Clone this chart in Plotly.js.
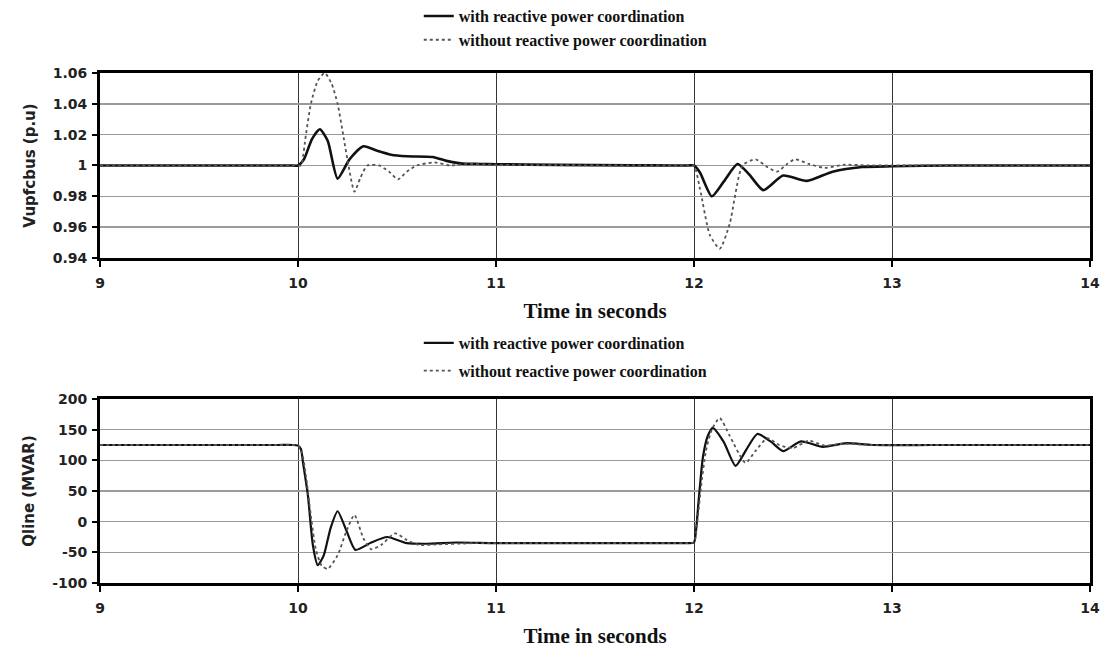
<!DOCTYPE html>
<html>
<head>
<meta charset="utf-8">
<script src="https://cdn.plot.ly/plotly-3.0.1.min.js"></script>
<style>html,body{margin:0;padding:0;background:#fff;}#chart{width:1102px;height:650px;}</style>
</head>
<body>
<div id="chart"></div>
<script>
// ---- Data ----
const seriesNames = ["with reactive power coordination", "without reactive power coordination"];

// Top: Vupfcbus (p.u), with coordination
const tVWith = [9, 9.5, 9.9, 9.97, 10, 10.03, 10.07, 10.11, 10.15, 10.2, 10.26, 10.33, 10.4, 10.47, 10.55, 10.68, 10.75, 10.83, 10.92, 11, 11.3, 11.7, 11.9, 11.97, 12, 12.03, 12.09, 12.15, 12.22, 12.28, 12.35, 12.45, 12.57, 12.7, 12.85, 13, 13.3, 13.7, 14];
const vWith  = [1.0, 1.0, 1.0, 1.0, 1.0, 1.004, 1.017, 1.0235, 1.016, 0.9915, 1.004, 1.0125, 1.0095, 1.007, 1.006, 1.0055, 1.003, 1.0012, 1.001, 1.0008, 1.0004, 1.0001, 1.0, 1.0, 1.0, 0.9955, 0.980, 0.9895, 1.001, 0.994, 0.984, 0.9935, 0.990, 0.996, 0.999, 0.9995, 1.0, 1.0, 1.0];

// Top: Vupfcbus (p.u), without coordination
const tVWithout = [9, 9.5, 9.9, 9.97, 10, 10.015, 10.04, 10.065, 10.1, 10.135, 10.17, 10.2, 10.228, 10.255, 10.285, 10.315, 10.35, 10.41, 10.46, 10.505, 10.55, 10.6, 10.69, 10.77, 10.85, 11, 11.3, 11.7, 11.9, 11.97, 12, 12.03, 12.08, 12.13, 12.18, 12.245, 12.31, 12.37, 12.42, 12.47, 12.51, 12.58, 12.66, 12.76, 12.88, 13, 13.3, 13.7, 14];
const vWithout  = [1.0, 1.0, 1.0, 1.0, 1.0, 1.0, 1.02, 1.04, 1.055, 1.06, 1.053, 1.04, 1.02, 1.0, 0.983, 0.992, 1.0, 1.0, 0.996, 0.991, 0.996, 1.0, 1.002, 1.0, 1.001, 1.0005, 1.0002, 1.0, 1.0, 1.0, 1.0, 0.985, 0.955, 0.946, 0.962, 1.0, 1.004, 0.999, 0.996, 1.001, 1.004, 1.001, 0.9985, 1.0005, 1.0, 1.0, 1.0, 1.0, 1.0];

// Bottom: Qline (MVAR), with coordination
const tQWith = [9, 9.5, 9.9, 9.97, 10, 10.015, 10.025, 10.05, 10.075, 10.1, 10.13, 10.165, 10.2, 10.245, 10.29, 10.37, 10.45, 10.55, 10.65, 10.8, 11, 11.5, 11.9, 11.97, 12, 12.01, 12.025, 12.045, 12.07, 12.095, 12.15, 12.21, 12.265, 12.32, 12.39, 12.45, 12.54, 12.65, 12.77, 12.9, 13.2, 13.6, 14];
const qWith  = [125, 125, 125, 125, 124, 118, 97, 43, -38, -71, -55, -10, 17, -15, -46, -34, -25, -35, -36, -34, -35, -35, -35, -35, -34, -15, 40, 105, 140, 153, 130, 91, 118, 143, 130, 115, 131, 122, 128, 125, 125, 125, 125];

// Bottom: Qline (MVAR), without coordination
const tQWithout = [9, 9.5, 9.9, 9.97, 10, 10.02, 10.04, 10.065, 10.09, 10.12, 10.15, 10.2, 10.245, 10.285, 10.33, 10.37, 10.42, 10.49, 10.55, 10.61, 10.7, 10.9, 11, 11.5, 11.9, 11.97, 12, 12.015, 12.035, 12.06, 12.09, 12.13, 12.18, 12.26, 12.31, 12.37, 12.43, 12.5, 12.58, 12.66, 12.75, 12.9, 13.2, 13.6, 14];
const qWithout  = [125, 125, 125, 125, 124, 112, 75, 10, -45, -72, -77, -55, -15, 11, -27, -45, -38, -19, -30, -38, -37, -35, -35, -35, -35, -35, -34, -5, 55, 115, 150, 169, 140, 96, 115, 136, 125, 120, 132, 124, 127, 125, 125, 125, 125];

// Tick labels
const xTicks = [9, 10, 11, 12, 13, 14];
const vTicks = [0.94, 0.96, 0.98, 1.0, 1.02, 1.04, 1.06];
const vTickText = ["0.94", "0.96", "0.98", "1", "1.02", "1.04", "1.06"];
const qTicks = [-100, -50, 0, 50, 100, 150, 200];

// ---- Styling ----
const solidLine = {color: '#111', width: 2.6, shape: 'spline', smoothing: 0.6};
const dotLine = {color: '#555', width: 1.8, dash: 'dot', shape: 'spline', smoothing: 0.6};

const traces = [
  {x: tVWith, y: vWith, name: seriesNames[0], mode: 'lines', line: solidLine, xaxis: 'x', yaxis: 'y', legend: 'legend', legendgroup: 'a'},
  {x: tVWithout, y: vWithout, name: seriesNames[1], mode: 'lines', line: dotLine, xaxis: 'x', yaxis: 'y', legend: 'legend', legendgroup: 'b'},
  {x: tQWith, y: qWith, name: seriesNames[0], mode: 'lines', line: Object.assign({}, solidLine, {width: 2.2}), xaxis: 'x2', yaxis: 'y2', legend: 'legend2', legendgroup: 'c'},
  {x: tQWithout, y: qWithout, name: seriesNames[1], mode: 'lines', line: dotLine, xaxis: 'x2', yaxis: 'y2', legend: 'legend2', legendgroup: 'd'}
];

const tickFont = {family: 'DejaVu Sans, Arial, sans-serif', size: 14, color: '#222', weight: 'bold'};
const serifFont = {family: 'Liberation Serif, Times New Roman, serif', size: 21, color: '#111', weight: 'bold'};
const legFont = {family: 'Liberation Serif, Times New Roman, serif', size: 16, color: '#111', weight: 'bold'};
const yTitleFont = {family: 'DejaVu Sans, Arial, sans-serif', size: 15, color: '#222', weight: 'bold'};

function xAxis(anchor) {
  return {
    anchor: anchor, range: [9, 14], tickvals: xTicks, ticktext: xTicks.map(String),
    automargin: false,
    showline: true, linecolor: '#000', linewidth: 3, mirror: true,
    ticks: 'outside', ticklen: 6, tickwidth: 2, tickcolor: '#000',
    ticklabelstandoff: 4,
    showgrid: true, gridcolor: '#333', gridwidth: 1,
    zeroline: false, tickfont: tickFont,
    title: {text: 'Time in seconds', font: serifFont, standoff: 14}
  };
}
function yAxis(anchor, domain, range, vals, text, title) {
  return {
    anchor: anchor, domain: domain, range: range, tickvals: vals, ticktext: text,
    automargin: false,
    showline: true, linecolor: '#000', linewidth: 3, mirror: true,
    ticks: 'outside', ticklen: 5, tickwidth: 2, tickcolor: '#000',
    ticklabelstandoff: 2,
    showgrid: true, gridcolor: '#9a9a9a', gridwidth: 1.6,
    zeroline: false, tickfont: tickFont,
    title: {text: title, font: yTitleFont, standoff: 14}
  };
}

const layout = {
  width: 1102, height: 650,
  margin: {l: 100, r: 12, t: 73, b: 67, autoexpand: false},
  paper_bgcolor: '#fff', plot_bgcolor: '#fff',
  showlegend: true,
  xaxis: Object.assign(xAxis('y'), {domain: [0, 1]}),
  yaxis: yAxis('x', [0.6373, 1], [0.94, 1.06], vTicks, vTickText, 'Vupfcbus (p.u)'),
  xaxis2: Object.assign(xAxis('y2'), {domain: [0, 1]}),
  yaxis2: yAxis('x2', [0, 0.3608], [-100, 200], qTicks, qTicks.map(String), 'Qline (MVAR)'),
  legend: {x: 0.322, y: 1.145, xanchor: 'left', yanchor: 'top', orientation: 'v', traceorder: 'grouped', tracegroupgap: 0, font: legFont, bgcolor: 'rgba(0,0,0,0)', itemwidth: 30},
  legend2: {x: 0.322, y: 0.504, xanchor: 'left', yanchor: 'top', orientation: 'v', traceorder: 'grouped', tracegroupgap: 4, font: legFont, bgcolor: 'rgba(0,0,0,0)', itemwidth: 30}
};

Plotly.newPlot('chart', traces, layout, {displayModeBar: false, staticPlot: true});
</script>
</body>
</html>
